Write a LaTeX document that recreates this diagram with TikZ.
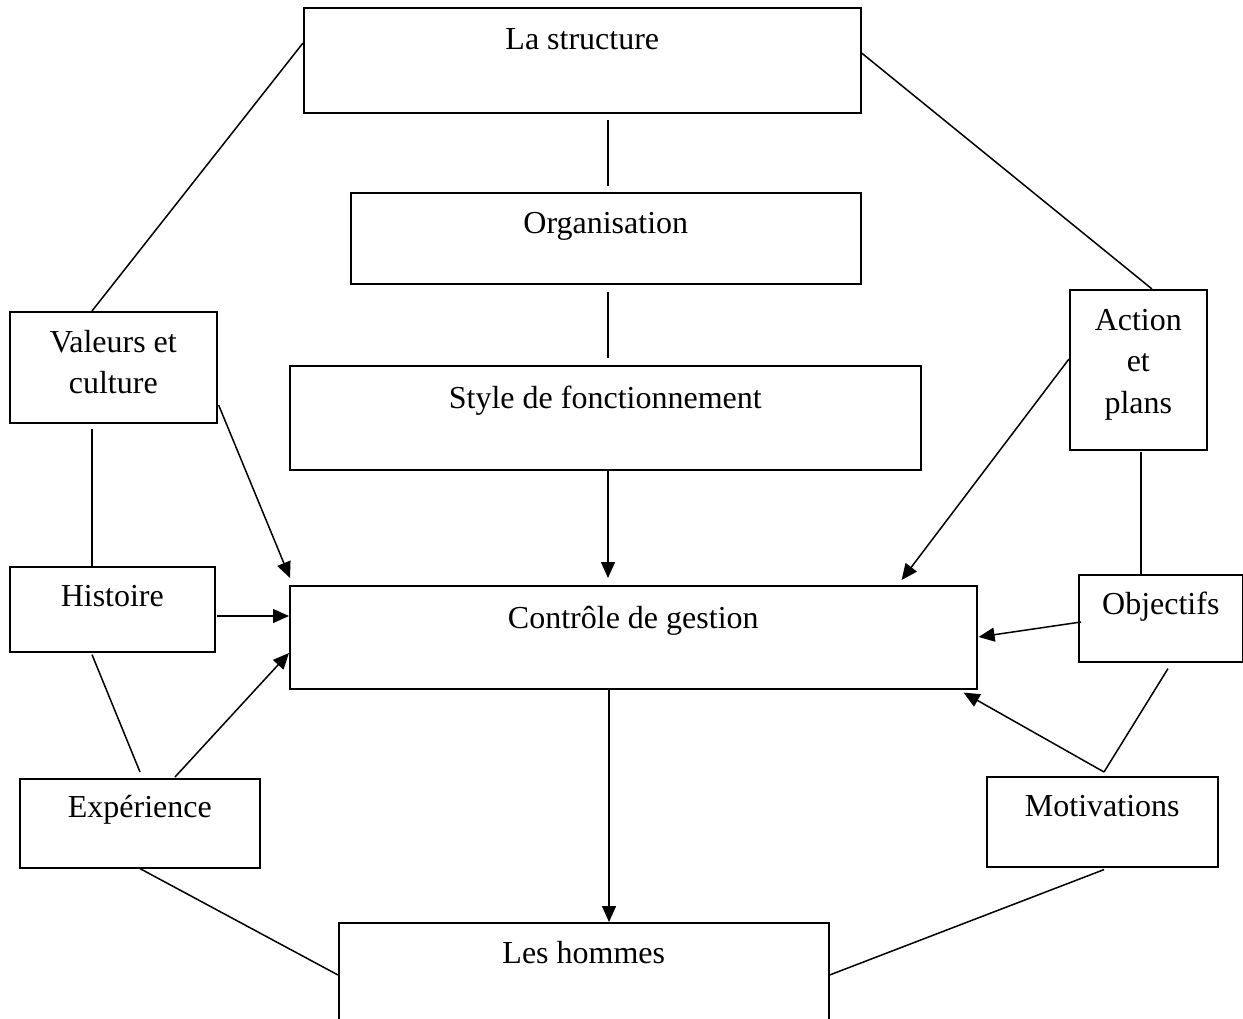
\documentclass[tikz,border=0pt]{standalone}
\usepackage{fontspec}
\setmainfont{Liberation Serif}
\usetikzlibrary{calc,arrows.meta}
\begin{document}
\begin{tikzpicture}[x=1pt,y=-1pt,
  box/.style={draw,line width=1.6pt,rectangle,inner sep=0pt,anchor=north west},
  lbl/.style={font=\fontsize{32}{41.5}\selectfont,inner sep=0pt,align=center},
  link/.style={line width=1.5pt},
  arr/.style={line width=1.5pt,-{Triangle[length=16pt,width=14pt]}}]
\useasboundingbox (0,0) rectangle (1243,1019);
\clip (0,0) rectangle (1243,1019);

% boxes
\node[box,minimum width=557pt,minimum height=105pt] (struct) at (303,7) {};
\node[box,minimum width=510pt,minimum height=91pt]  (org)    at (350,192) {};
\node[box,minimum width=631pt,minimum height=104pt] (style)  at (289,365) {};
\node[box,minimum width=687pt,minimum height=103pt] (ctrl)   at (289,585) {};
\node[box,minimum width=490pt,minimum height=130pt] (hommes) at (338,922) {};
\node[box,minimum width=207pt,minimum height=111pt] (val)    at (9,311) {};
\node[box,minimum width=205pt,minimum height=85pt]  (hist)   at (9,566) {};
\node[box,minimum width=240pt,minimum height=89pt]  (exp)    at (19,778) {};
\node[box,minimum width=137pt,minimum height=160pt] (action) at (1069,289) {};
\node[box,minimum width=164pt,minimum height=87pt]  (obj)    at (1078,574) {};
\node[box,minimum width=231pt,minimum height=90pt]  (motiv)  at (986,776) {};

% labels
\node[lbl,anchor=base]  (structT) at ($(struct.north)+(0,43)$) {La structure};
\node[lbl,anchor=base]  (orgT)    at ($(org.north)+(0,42)$)    {Organisation};
\node[lbl,anchor=base]  (styleT)  at ($(style.north)+(0,43)$)  {Style de fonctionnement};
\node[lbl,anchor=base]  (ctrlT)   at ($(ctrl.north)+(0,43)$)   {Contrôle de gestion};
\node[lbl,anchor=base]  (hommesT) at ($(hommes.north)+(0,41)$) {Les hommes};
\node[lbl,anchor=north] (valT)    at ($(val.north)+(0,19)$)    {Valeurs et\\culture};
\node[lbl,anchor=base]  (histT)   at ($(hist.north)+(0,40)$)   {Histoire};
\node[lbl,anchor=base]  (expT)    at ($(exp.north)+(0,39)$)    {Expérience};
\node[lbl,anchor=north] (actionT) at ($(action.north)+(0,20)$) {Action\\et\\plans};
\node[lbl,anchor=base]  (objT)    at ($(obj.north)+(0,40)$)    {Objectifs};
\node[lbl,anchor=base]  (motivT)  at ($(motiv.north)+(0,40)$)  {Motivations};

\coordinate (apex) at ($(motiv.north west)+(118,-4)$);

% plain links
\draw[link] ($(struct.north west)+(0,36)$) -- ($(val.north west)+(83,0)$);
\draw[link] ($(struct.north east)+(0,46)$) -- ($(action.north west)+(83,0)$);
\draw[link] ($(struct.south west)+(305,6)$) -- ($(org.north west)+(258,-6)$);
\draw[link] ($(org.south west)+(258,7)$) -- ($(style.north west)+(319,-7)$);
\draw[link] ($(val.south west)+(83,5)$) -- ($(hist.north west)+(83,0)$);
\draw[link] ($(hist.south west)+(83,2)$) -- ($(exp.north west)+(121,-6)$);
\draw[link] ($(exp.south west)+(121,0)$) -- ($(hommes.north west)+(0,53)$);
\draw[link] ($(action.south west)+(72,1)$) -- ($(obj.north west)+(63,0)$);
\draw[link] ($(obj.south west)+(90,6)$) -- (apex);
\draw[link] ($(motiv.south west)+(118,2)$) -- ($(hommes.north east)+(0,53)$);

% arrows into the central box
\draw[arr] ($(style.south west)+(319,0)$) -- ($(ctrl.north west)+(319,-7)$);
\draw[arr] ($(val.north east)+(1,94)$) -- ($(ctrl.north west)+(1,-7)$);
\draw[arr] ($(hist.north east)+(1,50)$) -- ($(ctrl.north west)+(0,31)$);
\draw[arr] ($(exp.north west)+(156,-1)$) -- ($(ctrl.north west)+(0,68)$);
\draw[arr] ($(action.north west)+(0,70)$) -- ($(ctrl.north east)+(-76,-5)$);
\draw[arr] ($(obj.north west)+(3,48)$) -- ($(ctrl.north east)+(1,52)$);
\draw[arr] (apex) -- ($(ctrl.south east)+(-14,3)$);
\draw[arr] ($(ctrl.south west)+(320,0)$) -- ($(hommes.north west)+(271,0)$);
\end{tikzpicture}
\end{document}
